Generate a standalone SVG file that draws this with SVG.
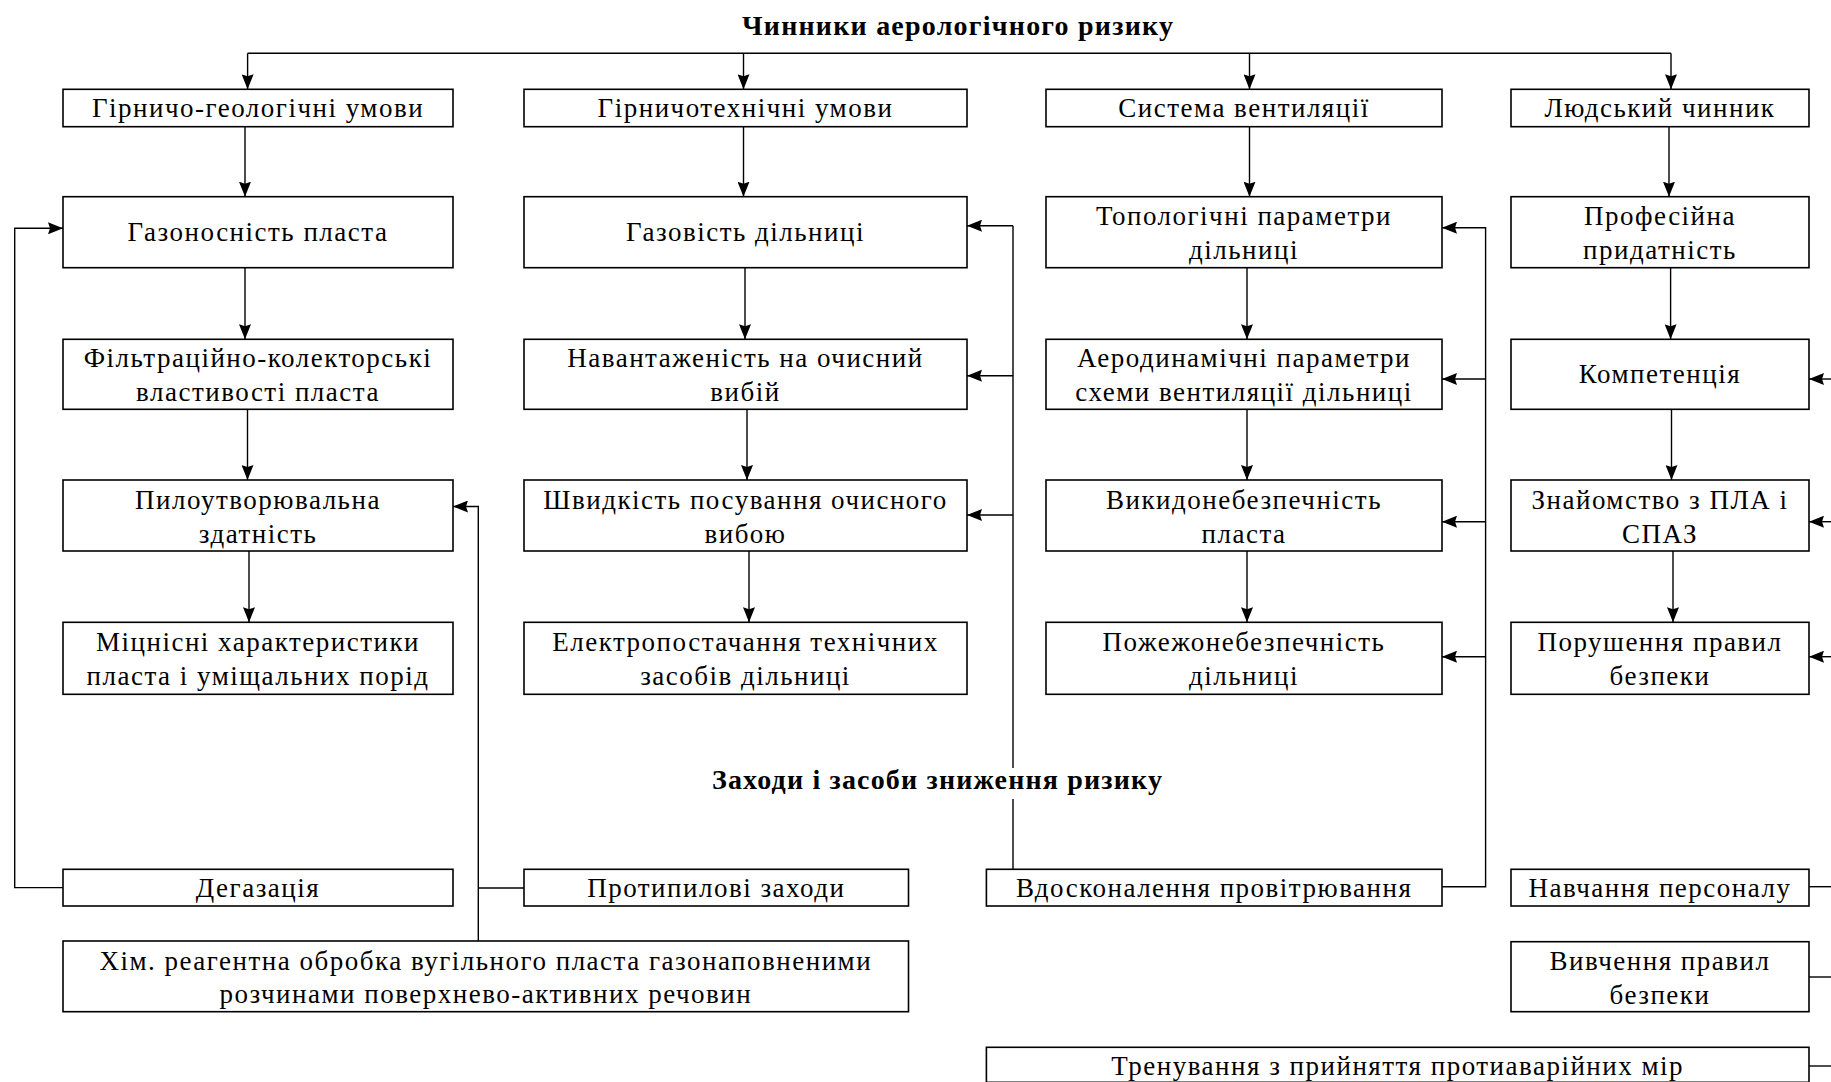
<svg xmlns="http://www.w3.org/2000/svg" width="1831" height="1082" viewBox="0 0 1831 1082">
<style>
.box{fill:#fff;stroke:#000;stroke-width:1.6}
.t{font-family:"Liberation Serif","Times New Roman",serif;font-size:27px;letter-spacing:1.5px;text-anchor:middle;fill:#000}
.h{font-family:"Liberation Serif","Times New Roman",serif;font-size:28px;font-weight:bold;fill:#000}
.ln{fill:none;stroke:#000;stroke-width:1.4}
.ar{marker-end:url(#arr)}
</style>
<defs>
<marker id="arr" viewBox="0 0 15 12" markerWidth="15" markerHeight="12" refX="15" refY="6" orient="auto" markerUnits="userSpaceOnUse">
<path d="M0,0 L15,6 L0,12 L2,6 z" fill="#000"/>
</marker>
</defs>
<rect width="1831" height="1082" fill="#fff"/>

<g id="connectors">
<path class="ln" d="M247.6,53.3 H1671"/>
<path class="ln ar" d="M247.6,53.3 V89.3"/>
<path class="ln ar" d="M743.5,53.3 V89.3"/>
<path class="ln ar" d="M1249.5,53.3 V89.3"/>
<path class="ln ar" d="M1671,53.3 V89.3"/>
<path class="ln ar" d="M245,126.7 V196.7"/>
<path class="ln ar" d="M245,267.7 V339.3"/>
<path class="ln ar" d="M247.5,409.3 V480"/>
<path class="ln ar" d="M249,551 V622.3"/>
<path class="ln ar" d="M743.5,126.7 V196.7"/>
<path class="ln ar" d="M745,267.7 V339.3"/>
<path class="ln ar" d="M747,409.3 V480"/>
<path class="ln ar" d="M749,551 V622.3"/>
<path class="ln ar" d="M1249.5,126.7 V196.7"/>
<path class="ln ar" d="M1247,267.7 V339.3"/>
<path class="ln ar" d="M1247,409.3 V480"/>
<path class="ln ar" d="M1247,551 V622.3"/>
<path class="ln ar" d="M1669,126.7 V196.7"/>
<path class="ln ar" d="M1670.6,267.7 V339.3"/>
<path class="ln ar" d="M1671.5,409.3 V480"/>
<path class="ln ar" d="M1673,551 V622.3"/>
<path class="ln ar" d="M63,887.6 H14.7 V228.3 H63"/>
<path class="ln" d="M524,888 H478.3"/>
<path class="ln ar" d="M478.3,941 V506.5 H453"/>
<path class="ln" d="M1013,869 V799"/>
<path class="ln" d="M1013,768 V225.7"/>
<path class="ln ar" d="M1013,225.7 H967"/>
<path class="ln ar" d="M1013,375.7 H967"/>
<path class="ln ar" d="M1013,515 H967"/>
<path class="ln ar" d="M1442,886.7 H1485.6 V227.7 H1442"/>
<path class="ln ar" d="M1485.6,379 H1442"/>
<path class="ln ar" d="M1485.6,521.7 H1442"/>
<path class="ln ar" d="M1485.6,656.7 H1442"/>
<path class="ln ar" d="M1831,379 H1809"/>
<path class="ln ar" d="M1831,521.7 H1809"/>
<path class="ln ar" d="M1831,656.7 H1809"/>
<path class="ln" d="M1809,886.7 H1831"/>
<path class="ln" d="M1809,977 H1831"/>
<path class="ln" d="M1809,1066 H1831"/>
</g>

<g id="title-factors"><text class="h" x="742" y="35" textLength="431" lengthAdjust="spacing">Чинники аерологічного ризику</text></g>
<g id="title-measures"><text class="h" x="712" y="789" textLength="450" lengthAdjust="spacing">Заходи і засоби зниження ризику</text></g>

<g id="n-geo"><rect class="box" x="63" y="89.3" width="390" height="37.4"/><text class="t" x="258" y="117">Гірничо-геологічні умови</text></g>
<g id="n-tech"><rect class="box" x="524" y="89.3" width="443" height="37.4"/><text class="t" x="745.5" y="117">Гірничотехнічні умови</text></g>
<g id="n-vent"><rect class="box" x="1046" y="89.3" width="396" height="37.4"/><text class="t" x="1244" y="117">Система вентиляції</text></g>
<g id="n-human"><rect class="box" x="1511" y="89.3" width="298" height="37.4"/><text class="t" x="1660" y="117">Людський чинник</text></g>

<g id="n-gasbear"><rect class="box" x="63" y="196.7" width="390" height="71"/><text class="t" x="258" y="241">Газоносність пласта</text></g>
<g id="n-gasflow"><rect class="box" x="524" y="196.7" width="443" height="71"/><text class="t" x="745.5" y="241">Газовість дільниці</text></g>
<g id="n-topo"><rect class="box" x="1046" y="196.7" width="396" height="71"/><text class="t" x="1244" y="225">Топологічні параметри</text><text class="t" x="1244" y="259">дільниці</text></g>
<g id="n-prof"><rect class="box" x="1511" y="196.7" width="298" height="71"/><text class="t" x="1660" y="225">Професійна</text><text class="t" x="1660" y="259">придатність</text></g>

<g id="n-filt"><rect class="box" x="63" y="339.3" width="390" height="70"/><text class="t" x="258" y="367.3">Фільтраційно-колекторські</text><text class="t" x="258" y="401.3">властивості пласта</text></g>
<g id="n-load"><rect class="box" x="524" y="339.3" width="443" height="70"/><text class="t" x="745.5" y="367.3">Навантаженість на очисний</text><text class="t" x="745.5" y="401.3">вибій</text></g>
<g id="n-aero"><rect class="box" x="1046" y="339.3" width="396" height="70"/><text class="t" x="1244" y="367.3">Аеродинамічні параметри</text><text class="t" x="1244" y="401.3">схеми вентиляції дільниці</text></g>
<g id="n-comp"><rect class="box" x="1511" y="339.3" width="298" height="70"/><text class="t" x="1660" y="383.3">Компетенція</text></g>

<g id="n-dust"><rect class="box" x="63" y="480" width="390" height="71"/><text class="t" x="258" y="508.5">Пилоутворювальна</text><text class="t" x="258" y="542.5">здатність</text></g>
<g id="n-speed"><rect class="box" x="524" y="480" width="443" height="71"/><text class="t" x="745.5" y="508.5">Швидкість посування очисного</text><text class="t" x="745.5" y="542.5">вибою</text></g>
<g id="n-outburst"><rect class="box" x="1046" y="480" width="396" height="71"/><text class="t" x="1244" y="508.5">Викидонебезпечність</text><text class="t" x="1244" y="542.5">пласта</text></g>
<g id="n-pla"><rect class="box" x="1511" y="480" width="298" height="71"/><text class="t" x="1660" y="508.5">Знайомство з ПЛА і</text><text class="t" x="1660" y="542.5">СПАЗ</text></g>

<g id="n-strength"><rect class="box" x="63" y="622.3" width="390" height="72"/><text class="t" x="258" y="651.3">Міцнісні характеристики</text><text class="t" x="258" y="685.3">пласта і уміщальних порід</text></g>
<g id="n-power"><rect class="box" x="524" y="622.3" width="443" height="72"/><text class="t" x="745.5" y="651.3">Електропостачання технічних</text><text class="t" x="745.5" y="685.3">засобів дільниці</text></g>
<g id="n-fire"><rect class="box" x="1046" y="622.3" width="396" height="72"/><text class="t" x="1244" y="651.3">Пожежонебезпечність</text><text class="t" x="1244" y="685.3">дільниці</text></g>
<g id="n-viol"><rect class="box" x="1511" y="622.3" width="298" height="72"/><text class="t" x="1660" y="651.3">Порушення правил</text><text class="t" x="1660" y="685.3">безпеки</text></g>

<g id="n-degas"><rect class="box" x="63" y="869.3" width="390" height="36.7"/><text class="t" x="258" y="896.6">Дегазація</text></g>
<g id="n-antidust"><rect class="box" x="524" y="869.3" width="384.5" height="36.7"/><text class="t" x="716.3" y="896.6">Протипилові заходи</text></g>
<g id="n-chem"><rect class="box" x="63" y="941" width="845.5" height="70.7"/><text class="t" x="485.8" y="970">Хім. реагентна обробка вугільного пласта газонаповненими</text><text class="t" x="485.8" y="1003.3">розчинами поверхнево-активних речовин</text></g>
<g id="n-ventimp"><rect class="box" x="986.4" y="869.3" width="455.6" height="36.7"/><text class="t" x="1214.2" y="896.6">Вдосконалення провітрювання</text></g>
<g id="n-train"><rect class="box" x="1511" y="869.3" width="298" height="36.7"/><text class="t" x="1660" y="896.6">Навчання персоналу</text></g>
<g id="n-rules"><rect class="box" x="1511" y="941.7" width="298" height="70"/><text class="t" x="1660" y="970">Вивчення правил</text><text class="t" x="1660" y="1003.7">безпеки</text></g>
<g id="n-drill"><rect class="box" x="986.4" y="1047.3" width="822.6" height="35"/><text class="t" x="1397.7" y="1075">Тренування з прийняття протиаварійних мір</text></g>
</svg>
